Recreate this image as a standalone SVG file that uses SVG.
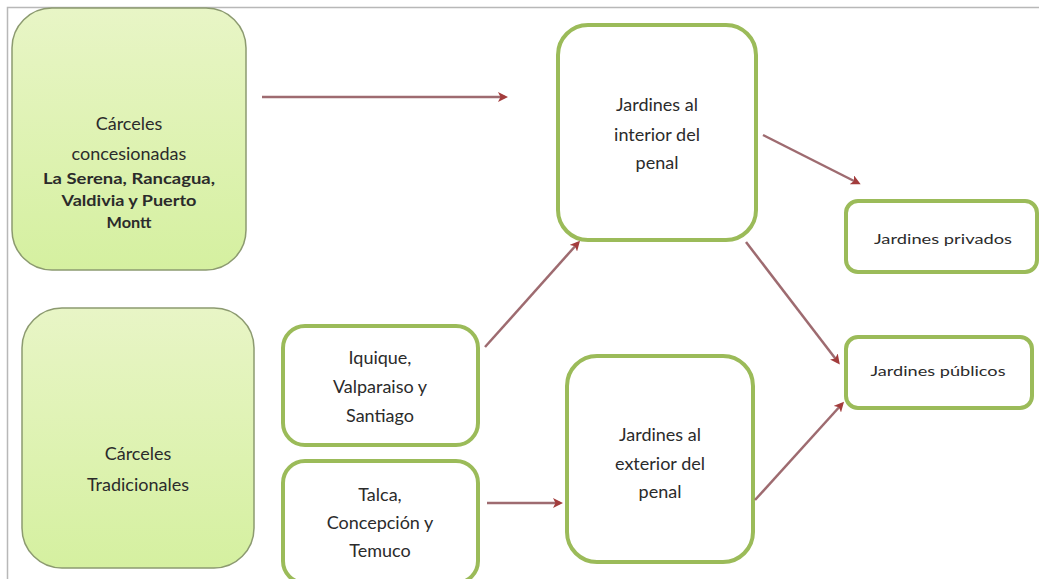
<svg xmlns="http://www.w3.org/2000/svg" width="1039" height="579" viewBox="0 0 1039 579">
<defs>
<linearGradient id="gA" x1="0" y1="0" x2="0" y2="1">
<stop offset="0" stop-color="#e8f5c6"/>
<stop offset="1" stop-color="#d5f0a0"/>
</linearGradient>
<marker id="ah" markerWidth="10" markerHeight="10" refX="7" refY="5" orient="auto" markerUnits="userSpaceOnUse" viewBox="0 0 10 10">
<path d="M0,0 L10,5 L0,10 L2.5,5 Z" fill="#a33c3c"/>
</marker>
<style>
.big{fill:url(#gA);stroke:#8c9a70;stroke-width:1.5}
.box{fill:#ffffff;stroke:#9bbb59;stroke-width:4}
.t{font-family:Lato,"Open Sans",sans-serif;fill:#2b2b2b;text-anchor:middle}
.l{font-size:18px}
.b{font-size:15px;font-weight:bold}
.s{font-size:13px}
.c{stroke:#9e6b70;stroke-width:2.5;fill:none;marker-end:url(#ah)}
</style>
</defs>
<rect x="0" y="0" width="1039" height="579" fill="#ffffff"/>
<path d="M7.5,579 V7.5 H1039" fill="none" stroke="#b8b8b8" stroke-width="1.5"/>
<g id="nA">
<rect class="big" x="12" y="8" width="234" height="262" rx="40"/>
<text class="t l" x="129" y="130">Cárceles</text>
<text class="t l" x="129" y="160">concesionadas</text>
<text class="t b" x="129" y="184" textLength="172" lengthAdjust="spacingAndGlyphs">La Serena, Rancagua,</text>
<text class="t b" x="129" y="206" textLength="135" lengthAdjust="spacingAndGlyphs">Valdivia y Puerto</text>
<text class="t b" x="129" y="228" textLength="45" lengthAdjust="spacingAndGlyphs">Montt</text>
</g>
<g id="nB">
<rect class="big" x="22" y="308" width="232" height="260" rx="40"/>
<text class="t l" x="138" y="460">Cárceles</text>
<text class="t l" x="138" y="491">Tradicionales</text>
</g>
<g id="nC">
<rect class="box" x="283" y="326" width="195" height="119" rx="22"/>
<text class="t l" x="380" y="364">Iquique,</text>
<text class="t l" x="380" y="393">Valparaiso y</text>
<text class="t l" x="380" y="422">Santiago</text>
</g>
<g id="nD">
<rect class="box" x="283" y="461" width="195" height="122" rx="22"/>
<text class="t l" x="380" y="501">Talca,</text>
<text class="t l" x="380" y="529">Concepción y</text>
<text class="t l" x="380" y="557">Temuco</text>
</g>
<g id="nE">
<rect class="box" x="558" y="25" width="198" height="215" rx="30"/>
<text class="t l" x="657" y="111">Jardines al</text>
<text class="t l" x="657" y="141">interior del</text>
<text class="t l" x="657" y="169">penal</text>
</g>
<g id="nF">
<rect class="box" x="567" y="356" width="186" height="206" rx="30"/>
<text class="t l" x="660" y="441">Jardines al</text>
<text class="t l" x="660" y="470">exterior del</text>
<text class="t l" x="660" y="498">penal</text>
</g>
<g id="nG">
<rect class="box" x="846" y="201" width="191" height="71" rx="12"/>
<text class="t s" x="943" y="244" textLength="138" lengthAdjust="spacingAndGlyphs">Jardines privados</text>
</g>
<g id="nH">
<rect class="box" x="846" y="337" width="186" height="71" rx="12"/>
<text class="t s" x="938" y="376" textLength="135" lengthAdjust="spacingAndGlyphs">Jardines públicos</text>
</g>
<g id="connectors">
<line class="c" x1="262" y1="97" x2="505" y2="97"/>
<line class="c" x1="763" y1="135" x2="858" y2="183"/>
<line class="c" x1="485" y1="347" x2="578" y2="243"/>
<line class="c" x1="746" y1="242" x2="838" y2="362"/>
<line class="c" x1="487" y1="503" x2="560" y2="503"/>
<line class="c" x1="755" y1="500" x2="842" y2="404"/>
</g>
</svg>
